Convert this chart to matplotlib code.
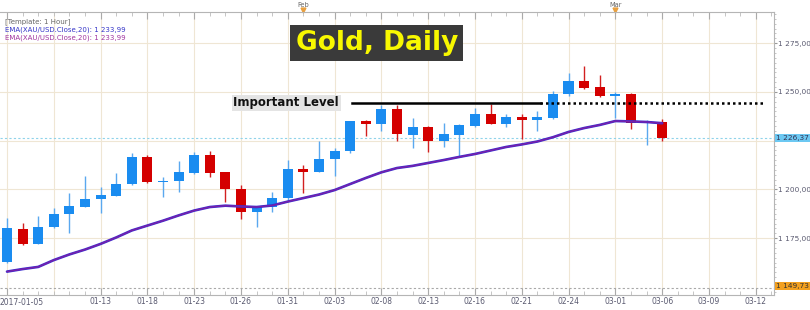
import matplotlib
matplotlib.use('Agg')
import matplotlib.pyplot as plt
import matplotlib.transforms as mtransforms
from matplotlib.ticker import MultipleLocator, FuncFormatter
import numpy as np

# XAU/USD daily candles, 2017-01-05 .. 2017-03-06
opens = [1163.0, 1179.9, 1172.2, 1180.8, 1187.3, 1191.2, 1195.0, 1196.8, 1202.8, 1216.8,
         1203.7, 1204.4, 1208.6, 1217.7, 1208.8, 1200.4, 1188.6, 1191.2, 1195.5, 1210.5,
         1209.1, 1215.5, 1219.7, 1235.3, 1233.4, 1241.3, 1228.1, 1232.2, 1225.0, 1228.1,
         1232.6, 1238.7, 1233.6, 1237.2, 1235.6, 1236.8, 1249.0, 1255.6, 1252.4, 1247.9,
         1249.0, 1234.3, 1234.5]
closes = [1180.1, 1172.2, 1180.8, 1187.4, 1191.5, 1195.1, 1197.2, 1202.8, 1216.8, 1203.7,
          1204.5, 1208.8, 1217.7, 1208.6, 1200.3, 1188.6, 1191.2, 1195.5, 1210.5, 1209.1,
          1215.6, 1219.9, 1235.1, 1233.4, 1241.3, 1228.3, 1232.2, 1225.0, 1228.5, 1233.1,
          1238.7, 1233.6, 1237.0, 1235.6, 1237.0, 1249.0, 1255.6, 1252.2, 1247.9, 1249.0,
          1233.9, 1235.1, 1226.37]
highs = [1185.2, 1182.7, 1186.4, 1190.5, 1198.1, 1206.9, 1201.1, 1208.6, 1218.6, 1217.5,
         1206.3, 1214.6, 1219.2, 1219.9, 1209.0, 1202.3, 1191.5, 1198.9, 1215.1, 1212.6,
         1224.9, 1221.4, 1235.3, 1235.5, 1243.3, 1243.3, 1236.5, 1232.5, 1234.3, 1233.5,
         1241.6, 1243.8, 1238.6, 1238.6, 1240.3, 1250.7, 1259.6, 1263.5, 1258.7, 1250.0,
         1249.5, 1235.5, 1236.0]
lows = [1162.5, 1171.7, 1172.0, 1180.5, 1177.5, 1190.9, 1188.1, 1196.5, 1202.5, 1203.2,
        1196.3, 1198.9, 1208.0, 1206.6, 1193.7, 1184.9, 1180.9, 1188.6, 1194.6, 1198.4,
        1209.0, 1207.1, 1218.6, 1227.6, 1230.0, 1224.9, 1221.4, 1219.4, 1221.9, 1216.8,
        1232.0, 1233.4, 1232.2, 1225.7, 1230.0, 1236.2, 1247.9, 1251.4, 1247.3, 1236.5,
        1230.9, 1222.8, 1225.0]
ema20 = [1157.9, 1159.2, 1160.3, 1163.8, 1166.7, 1169.2, 1172.1, 1175.4, 1179.0, 1181.5,
         1184.0, 1186.7, 1189.2, 1191.0, 1191.7, 1191.3, 1191.0, 1191.8, 1193.8, 1195.6,
         1197.4, 1199.7, 1202.8, 1205.9, 1208.8, 1211.0, 1212.1, 1213.6, 1215.1, 1216.7,
         1218.2, 1220.0, 1221.8, 1223.1, 1224.6, 1226.8, 1229.5, 1231.5, 1233.1, 1235.1,
         1234.9, 1234.6, 1233.99]

tick_idx = [0, 6, 9, 12, 15, 18, 21, 24, 27, 30, 33, 36, 39, 42, 45, 48]
tick_labels = ["2017-01-05", "01-13", "01-18", "01-23", "01-26", "01-31", "02-03", "02-08",
               "02-13", "02-16", "02-21", "02-24", "03-01", "03-06", "03-09", "03-12"]
month_idx = [19, 39]
month_labels = ["Feb", "Mar"]

last_price = 1226.37
low_mark = 1149.73
level_price = 1244.4

# ---- figure
fig = plt.figure(figsize=(8.1, 3.1), dpi=100)
ax = fig.add_axes([0, 1 - 295 / 310, 774 / 810, (295 - 12) / 310])

x = np.arange(len(opens))
o = np.array(opens)
c = np.array(closes)
up = c >= o
body_col = np.where(up, '#1a8cf0', '#d40000')
wick_col = np.where(up, '#5aa8ef', '#d22020')

ax.vlines(x, lows, highs, colors=wick_col, lw=1, zorder=3)
body = np.where(np.abs(c - o) < 0.6, np.sign(c - o + 1e-9) * 0.6, c - o)
ax.bar(x, body, bottom=o, width=0.65, color=body_col, zorder=4)

ax.plot(x, ema20, color='#3a2fd0', lw=1.9, zorder=5, solid_capstyle='round')
ax.plot(x, ema20, color='#7a1fa8', lw=1.0, zorder=6, solid_capstyle='round')

# reference lines
ax.axhline(last_price, color='#8fd3ea', lw=0.8, ls=(0, (2, 2)), zorder=2)
ax.axhline(low_mark, color='#a8a8a8', lw=0.8, ls=(0, (2, 2)), zorder=2)
ax.plot([22.1, 34.2], [level_price, level_price], color='black', lw=1.8, zorder=7)
ax.plot([34.2, 48.6], [level_price, level_price], color='black', lw=1.8,
        ls=(0, (1, 1.2)), zorder=7)
ax.text(17.9, level_price, "Important Level", ha='center', va='center', fontsize=8.5,
        fontweight='bold', color='#111111', zorder=8,
        bbox=dict(boxstyle='square,pad=0.15', fc='#e4e4e4', ec='none'))

ax.text(0.487, 0.89, "Gold, Daily", transform=ax.transAxes, ha='center', va='center',
        fontsize=19, fontweight='bold', color='#f8f800', zorder=9,
        bbox=dict(boxstyle='square,pad=0.2', fc='#3a3a3a', ec='none'))

ax.text(0.006, 0.966, "[Template: 1 Hour]", transform=ax.transAxes, fontsize=5,
        color='#666666', va='center')
ax.text(0.006, 0.937, "EMA(XAU/USD.Close,20): 1 233,99", transform=ax.transAxes,
        fontsize=5, color='#3535c8', va='center')
ax.text(0.006, 0.908, "EMA(XAU/USD.Close,20): 1 233,99", transform=ax.transAxes,
        fontsize=5, color='#a035a0', va='center')

# axes limits / grid
ax.set_xlim(-0.45, 49.17)
ax.set_ylim(1145.9, 1291.0)
ax.set_facecolor('white')
for v in range(0, 49, 3):
    ax.axvline(v, color='#efe6d4', lw=0.8, zorder=1)
for v in [1175, 1200, 1225, 1250, 1275]:
    ax.axhline(v, color='#efe6d4', lw=0.8, zorder=1)

# right price axis
ax.yaxis.tick_right()
ax.set_yticks([1150, 1175, 1200, 1225, 1250, 1275])
ax.yaxis.set_major_formatter(FuncFormatter(
    lambda v, p: "" if v in (1150, 1225) else f"{int(v) // 1000} {int(v) % 1000:03d},00"))
ax.yaxis.set_minor_locator(MultipleLocator(2.5))
ax.tick_params(axis='y', which='major', direction='out', length=2.5, labelsize=5.3,
               labelcolor='#5a5a70', color='#999999', pad=0.5)
ax.tick_params(axis='y', which='minor', direction='out', length=1.5, color='#bbbbbb')

# bottom date axis
ax.set_xticks(tick_idx)
ax.set_xticklabels([""] + tick_labels[1:])
ax.xaxis.set_minor_locator(MultipleLocator(1))
ax.tick_params(axis='x', which='major', direction='in', length=5, labelsize=5.5,
               labelcolor='#5a5a70', color='#aaaaaa', pad=1.5, top=True)
ax.tick_params(axis='x', which='minor', direction='in', length=3, color='#bbbbbb', top=True)
ax.text(0.0, -0.012, tick_labels[0], transform=ax.transAxes, ha='left', va='top',
        fontsize=5.5, color='#5a5a70')

for s in ['left']:
    ax.spines[s].set_visible(False)
for s in ['right', 'top', 'bottom']:
    ax.spines[s].set_color('#b5b5b5')
    ax.spines[s].set_linewidth(0.8)

# month markers on top strip
trans = ax.get_xaxis_transform()
for mi, ml in zip(month_idx, month_labels):
    ax.text(mi, 1.026, ml, transform=trans, ha='center', va='center', fontsize=4.8,
            color='#666666', clip_on=False)
    ax.plot(mi, 1.008, marker='v', ms=3.5, color='#e8a040', transform=trans, clip_on=False)

# price boxes on the right
btrans = mtransforms.blended_transform_factory(ax.transAxes, ax.transData)
ax.text(1.003, last_price, "1 226,37", transform=btrans, ha='left', va='center',
        fontsize=5.3, color='#333355', clip_on=False,
        bbox=dict(boxstyle='square,pad=0.15', fc='#6cc8f2', ec='none'))
ax.text(1.003, low_mark + 0.8, "1 149,73", transform=btrans, ha='left', va='center',
        fontsize=5.3, color='#333333', clip_on=False,
        bbox=dict(boxstyle='square,pad=0.15', fc='#f2a020', ec='none'))

fig.savefig('out.png', dpi=100, facecolor='white')
